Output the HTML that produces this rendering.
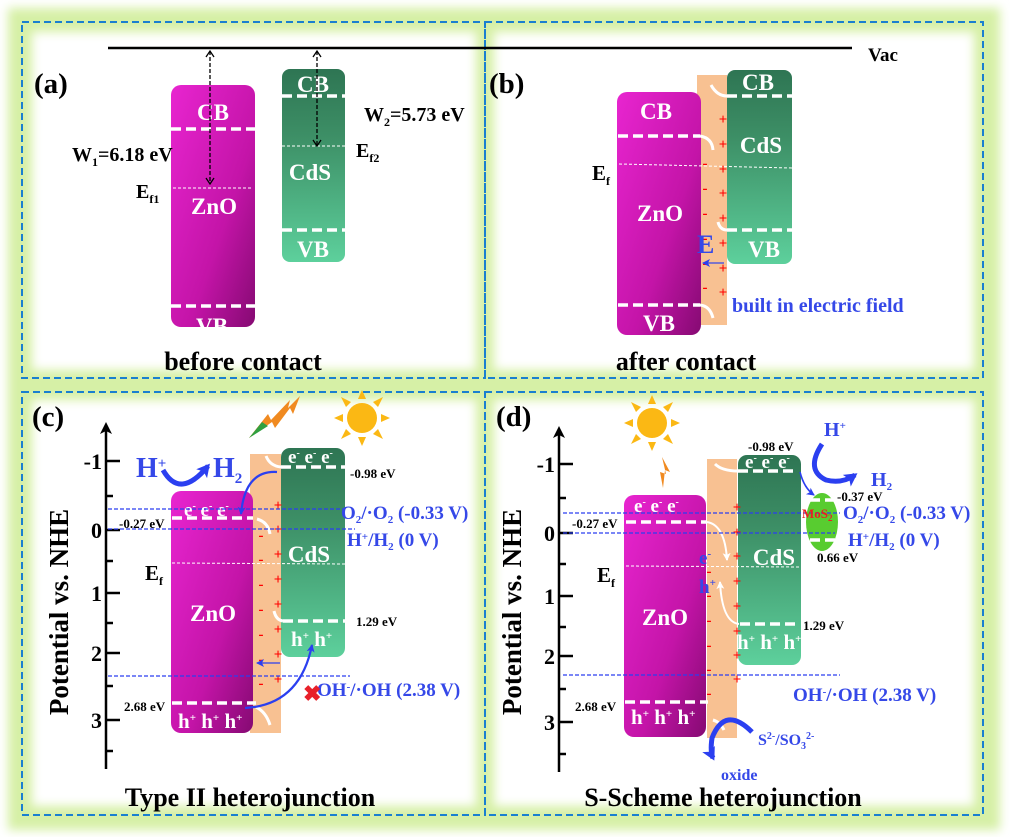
<!DOCTYPE html>
<html><head><meta charset="utf-8"><style>
html,body{margin:0;padding:0;background:#fff}
svg{display:block}
text{font-family:"Liberation Serif",serif;font-weight:bold}
</style></head><body>
<svg width="1010" height="837" viewBox="0 0 1010 837" xmlns="http://www.w3.org/2000/svg">
<defs>
<linearGradient id="mag" x1="0" y1="0" x2="1" y2="1"><stop offset="0" stop-color="#e825d0"/><stop offset="0.6" stop-color="#c414a8"/><stop offset="1" stop-color="#850a72"/></linearGradient>
<linearGradient id="grn" x1="0" y1="0" x2="0" y2="1"><stop offset="0" stop-color="#2e7553"/><stop offset="0.35" stop-color="#3d8f66"/><stop offset="1" stop-color="#5dd09c"/></linearGradient>
<filter id="bl"><feGaussianBlur stdDeviation="5"/></filter>
<marker id="ab" markerUnits="userSpaceOnUse" markerWidth="10" markerHeight="10" refX="7" refY="5" orient="auto"><path d="M0,1 L8,5 L0,9 L2,5z" fill="#2b3ff0"/></marker>
<marker id="abL" markerUnits="userSpaceOnUse" markerWidth="16" markerHeight="16" refX="10" refY="8" orient="auto"><path d="M0,1 L13,8 L0,15 L3,8z" fill="#2b3ff0"/></marker>
<marker id="aw" markerUnits="userSpaceOnUse" markerWidth="10" markerHeight="10" refX="7" refY="5" orient="auto"><path d="M0,1 L8,5 L0,9 L2,5z" fill="#fff"/></marker>
<marker id="ak" markerUnits="userSpaceOnUse" markerWidth="10" markerHeight="10" refX="8" refY="5" orient="auto-start-reverse"><path d="M2,1 L8,5 L2,9" fill="none" stroke="#000" stroke-width="1.3"/></marker>
<marker id="ax" markerUnits="userSpaceOnUse" markerWidth="14" markerHeight="14" refX="8" refY="7" orient="auto"><path d="M0,1 L12,7 L0,13 L3,7z" fill="#000"/></marker>
</defs>
<rect x="8" y="8" width="992" height="822" fill="#d6f0a6" filter="url(#bl)"/>
<rect x="32" y="32" width="444" height="338" fill="#fff" filter="url(#bl)"/>
<rect x="494" y="32" width="480" height="338" fill="#fff" filter="url(#bl)"/>
<rect x="32" y="400" width="444" height="406" fill="#fff" filter="url(#bl)"/>
<rect x="494" y="400" width="480" height="406" fill="#fff" filter="url(#bl)"/>
<g fill="none" stroke="#1a7fd0" stroke-width="2" stroke-dasharray="7,4">
<rect x="22" y="22" width="463" height="356"/><rect x="485" y="22" width="498" height="356"/>
<rect x="22" y="392" width="463" height="423"/><rect x="485" y="392" width="498" height="423"/>
</g>

<!-- (a) -->
<line x1="108" y1="48" x2="852" y2="48" stroke="#000" stroke-width="2.5"/>
<text x="868" y="61" font-size="19">Vac</text>
<text x="34" y="93" font-size="29">(a)</text>
<rect x="171" y="85" width="84" height="242" rx="10" fill="url(#mag)"/>
<rect x="282" y="69" width="63" height="193" rx="8" fill="url(#grn)"/>
<g stroke="#fff" stroke-width="3.5" stroke-dasharray="10,5">
<line x1="171" y1="129" x2="255" y2="129"/><line x1="171" y1="306" x2="255" y2="306"/>
<line x1="282" y1="96" x2="345" y2="96"/><line x1="282" y1="230" x2="345" y2="230"/>
</g>
<g stroke="#fff" stroke-width="1" stroke-dasharray="3,2">
<line x1="173" y1="188" x2="253" y2="188"/><line x1="282" y1="146" x2="345" y2="146"/></g>
<g fill="#fff" font-size="23" text-anchor="middle">
<text x="213" y="120">CB</text><text x="214" y="214">ZnO</text><text x="212" y="334">VB</text>
<text x="313" y="92">CB</text><text x="310" y="180">CdS</text><text x="313" y="257">VB</text></g>
<g stroke="#000" stroke-width="1.3" stroke-dasharray="4,2">
<line x1="210" y1="51" x2="210" y2="184" marker-start="url(#ak)" marker-end="url(#ak)"/>
<line x1="317" y1="51" x2="317" y2="146" marker-start="url(#ak)" marker-end="url(#ak)"/></g>
<text x="72" y="161" font-size="20">W<tspan font-size="12" dy="5">1</tspan><tspan dy="-5">=6.18 eV</tspan></text>
<text x="136" y="198" font-size="20">E<tspan font-size="12" dy="5">f1</tspan></text>
<text x="364" y="121" font-size="20">W<tspan font-size="12" dy="5">2</tspan><tspan dy="-5">=5.73 eV</tspan></text>
<text x="356" y="157" font-size="20">E<tspan font-size="12" dy="5">f2</tspan></text>
<text x="243" y="370" font-size="26" text-anchor="middle">before contact</text>

<!-- (b) -->
<text x="489" y="93" font-size="29">(b)</text>
<rect x="697" y="75" width="30" height="250" fill="#f8c192"/>
<rect x="617" y="92" width="84" height="243" rx="10" fill="url(#mag)"/>
<rect x="727" y="70" width="65" height="194" rx="8" fill="url(#grn)"/>
<g stroke="#fff" stroke-width="3.5" stroke-dasharray="10,5">
<line x1="618" y1="136" x2="700" y2="136"/><line x1="618" y1="305" x2="700" y2="305"/>
<line x1="727" y1="96" x2="792" y2="96"/><line x1="727" y1="230" x2="792" y2="230"/></g>
<g stroke="#fff" stroke-width="3" fill="none"><path d="M700,136 Q712,138 713,150"/><path d="M711,85 Q717,96 727,96"/><path d="M700,305 Q710,306 713,318"/><path d="M718,222 Q720,230 727,230"/></g>
<g stroke="#fff" stroke-width="1" stroke-dasharray="3,2"><line x1="619" y1="164" x2="792" y2="168"/></g>
<g fill="#fff" font-size="23" text-anchor="middle">
<text x="656" y="119">CB</text><text x="660" y="221">ZnO</text><text x="659" y="331">VB</text>
<text x="758" y="90">CB</text><text x="761" y="153">CdS</text><text x="764" y="257">VB</text></g>
<g fill="#f00" font-size="15" font-family="Liberation Sans" text-anchor="middle">
<text x="723" y="124">+</text><text x="723" y="149">+</text><text x="723" y="174">+</text><text x="723" y="198">+</text><text x="723" y="223">+</text><text x="723" y="248">+</text><text x="723" y="273">+</text><text x="723" y="297">+</text>
<text x="705" y="168">-</text><text x="705" y="193">-</text><text x="705" y="218">-</text><text x="705" y="243">-</text><text x="705" y="268">-</text><text x="705" y="292">-</text></g>
<text x="697" y="253" font-size="26" fill="#3548e8">E</text>
<line x1="724" y1="263" x2="703" y2="263" stroke="#3548e8" stroke-width="1.3" marker-end="url(#ab)"/>
<text x="732" y="312" font-size="20" fill="#3548e8">built in electric field</text>
<text x="592" y="180" font-size="21">E<tspan font-size="12" dy="5">f</tspan></text>
<text x="686" y="370" font-size="26" text-anchor="middle">after contact</text>

<!-- (c) -->
<text x="32" y="426" font-size="29">(c)</text>
<line x1="106" y1="769" x2="106" y2="426" stroke="#000" stroke-width="2.5" marker-end="url(#ax)"/>
<g stroke="#000" stroke-width="2.5">
<line x1="106" y1="461" x2="120" y2="461"/><line x1="106" y1="530" x2="120" y2="530"/><line x1="106" y1="593" x2="120" y2="593"/><line x1="106" y1="653" x2="120" y2="653"/><line x1="106" y1="720" x2="120" y2="720"/>
<line x1="106" y1="496" x2="113" y2="496"/><line x1="106" y1="561" x2="113" y2="561"/><line x1="106" y1="623" x2="113" y2="623"/><line x1="106" y1="686" x2="113" y2="686"/><line x1="106" y1="751" x2="113" y2="751"/></g>
<g font-size="22" text-anchor="end"><text x="102" y="469">-1</text><text x="102" y="538">0</text><text x="102" y="601">1</text><text x="102" y="661">2</text><text x="102" y="728">3</text></g>
<text transform="translate(68,612) rotate(-90)" font-size="27" text-anchor="middle">Potential vs. NHE</text>
<rect x="250" y="454" width="31" height="279" fill="#f8c192"/>
<rect x="171" y="491" width="82" height="242" rx="10" fill="url(#mag)"/>
<rect x="281" y="448" width="64" height="209" rx="9" fill="url(#grn)"/>
<g stroke="#fff" stroke-width="3.5" stroke-dasharray="10,5">
<line x1="172" y1="518" x2="253" y2="518"/><line x1="172" y1="703" x2="256" y2="703"/>
<line x1="281" y1="467" x2="345" y2="467"/><line x1="283" y1="621" x2="345" y2="621"/></g>
<g stroke="#fff" stroke-width="3" fill="none"><path d="M257,519 Q268,522 270,534"/><path d="M266,456 Q270,466 281,467"/><path d="M256,707 Q266,712 270,725"/><path d="M274,611 Q276,620 283,621"/></g>
<g stroke="#fff" stroke-width="1" stroke-dasharray="3,2"><line x1="172" y1="563" x2="345" y2="564"/></g>
<g fill="#fff" font-size="23" text-anchor="middle"><text x="213" y="621">ZnO</text><text x="309" y="562">CdS</text></g>
<g fill="#fff" font-size="19"><text x="184" y="516">e<tspan font-size="10" dy="-7">-</tspan><tspan dy="7"> e</tspan><tspan font-size="10" dy="-7">-</tspan><tspan dy="7"> e</tspan><tspan font-size="10" dy="-7">-</tspan></text>
<text x="288" y="463">e<tspan font-size="10" dy="-7">-</tspan><tspan dy="7"> e</tspan><tspan font-size="10" dy="-7">-</tspan><tspan dy="7"> e</tspan><tspan font-size="10" dy="-7">-</tspan></text>
<text x="178" y="728" font-size="21">h<tspan font-size="11" dy="-7">+</tspan><tspan dy="7"> h</tspan><tspan font-size="11" dy="-7">+</tspan><tspan dy="7"> h</tspan><tspan font-size="11" dy="-7">+</tspan></text>
<text x="291" y="646" font-size="21">h<tspan font-size="11" dy="-7">+</tspan><tspan dy="7"> h</tspan><tspan font-size="11" dy="-7">+</tspan></text></g>
<g fill="#f00" font-size="15" font-family="Liberation Sans" text-anchor="middle">
<text x="278" y="510">+</text><text x="278" y="534">+</text><text x="278" y="559">+</text><text x="278" y="584">+</text><text x="278" y="609">+</text><text x="278" y="634">+</text><text x="278" y="659">+</text><text x="278" y="684">+</text>
<text x="261" y="540">-</text><text x="261" y="564">-</text><text x="261" y="589">-</text><text x="261" y="614">-</text><text x="261" y="639">-</text><text x="261" y="664">-</text><text x="261" y="688">-</text></g>
<g stroke="#2b3ff0" stroke-width="1.3" stroke-dasharray="4,2">
<line x1="108" y1="509" x2="345" y2="509"/><line x1="108" y1="529" x2="355" y2="529"/><line x1="108" y1="676" x2="350" y2="676"/></g>
<g fill="#3548e8" font-size="19"><text x="341" y="519">O<tspan font-size="11" dy="4">2</tspan><tspan dy="-4">/·O</tspan><tspan font-size="11" dy="4">2</tspan><tspan dy="-4"> (-0.33 V)</tspan></text>
<text x="347" y="546">H<tspan font-size="11" dy="-6">+</tspan><tspan dy="6">/H</tspan><tspan font-size="11" dy="4">2</tspan><tspan dy="-4"> (0 V)</tspan></text>
<text x="317" y="696">OH<tspan font-size="11" dy="-6">-</tspan><tspan dy="6">/·OH (2.38 V)</tspan></text>
<text x="136" y="477" font-size="28">H<tspan font-size="15" dy="-9">+</tspan></text><text x="213" y="477" font-size="28">H<tspan font-size="15" dy="6">2</tspan></text></g>
<text x="303" y="701" font-size="22" fill="#e8202a" font-family="Liberation Sans">✖</text>
<g font-size="13"><text x="350" y="478">-0.98 eV</text><text x="356" y="626">1.29 eV</text><text x="119" y="528">-0.27 eV</text><text x="124" y="711">2.68 eV</text></g>
<text x="145" y="580" font-size="21">E<tspan font-size="12" dy="5">f</tspan></text>
<path d="M163,470 Q180,500 208,466" fill="none" stroke="#2b3ff0" stroke-width="5" marker-end="url(#abL)"/>
<path d="M277,472 Q245,470 241,514" fill="none" stroke="#2b3ff0" stroke-width="2.2" marker-end="url(#ab)"/>
<path d="M245,708 Q300,705 312,645" fill="none" stroke="#2b3ff0" stroke-width="2.2" marker-end="url(#ab)"/>
<line x1="280" y1="663" x2="257" y2="663" stroke="#2b3ff0" stroke-width="1.3" marker-end="url(#ab)"/>
<polygon points="249,438 268,414 271,420 290,400 288,408 300,396 293,414 290,408 275,428 272,422" fill="#f08a20"/>
<polygon points="249,438 262,422 268,426" fill="#30a040"/>
<g transform="translate(362,418)" fill="#fbb814"><circle r="15"/><g id="rays"><polygon points="-4,-19 4,-19 0,-28"/><polygon points="-4,19 4,19 0,28"/><polygon points="-19,-4 -19,4 -28,0"/><polygon points="19,-4 19,4 28,0"/><polygon points="11,-16 16,-11 21,-21"/><polygon points="-11,-16 -16,-11 -21,-21"/><polygon points="11,16 16,11 21,21"/><polygon points="-11,16 -16,11 -21,21"/></g></g>
<text x="250" y="806" font-size="26" text-anchor="middle">Type II heterojunction</text>

<!-- (d) -->
<text x="496" y="426" font-size="29">(d)</text>
<line x1="559" y1="772" x2="559" y2="430" stroke="#000" stroke-width="2.5" marker-end="url(#ax)"/>
<g stroke="#000" stroke-width="2.5">
<line x1="559" y1="464" x2="573" y2="464"/><line x1="559" y1="533" x2="573" y2="533"/><line x1="559" y1="596" x2="573" y2="596"/><line x1="559" y1="656" x2="573" y2="656"/><line x1="559" y1="722" x2="573" y2="722"/>
<line x1="559" y1="498" x2="566" y2="498"/><line x1="559" y1="564" x2="566" y2="564"/><line x1="559" y1="627" x2="566" y2="627"/><line x1="559" y1="689" x2="566" y2="689"/><line x1="559" y1="754" x2="566" y2="754"/></g>
<g font-size="22" text-anchor="end"><text x="555" y="472">-1</text><text x="555" y="541">0</text><text x="555" y="604">1</text><text x="555" y="664">2</text><text x="555" y="730">3</text></g>
<text transform="translate(521,612) rotate(-90)" font-size="27" text-anchor="middle">Potential vs. NHE</text>
<rect x="707" y="459" width="30" height="279" fill="#f8c192"/>
<rect x="624" y="495" width="82" height="242" rx="10" fill="url(#mag)"/>
<rect x="738" y="455" width="63" height="210" rx="9" fill="url(#grn)"/>
<ellipse cx="822" cy="522" rx="16" ry="29" fill="#58cc30"/>
<g stroke="#fff" stroke-width="3.5" stroke-dasharray="10,5">
<line x1="626" y1="522" x2="706" y2="522"/><line x1="625" y1="702" x2="708" y2="702"/>
<line x1="738" y1="471" x2="798" y2="471"/><line x1="740" y1="624" x2="800" y2="624"/>
<line x1="810" y1="500" x2="835" y2="500"/><line x1="810" y1="540" x2="835" y2="540"/></g>
<g stroke="#fff" stroke-width="3" fill="none"><path d="M715,464 Q722,471 738,471"/><path d="M713,720 Q720,722 724,730"/></g>
<g stroke="#fff" stroke-width="1" stroke-dasharray="3,2"><line x1="626" y1="566" x2="801" y2="567"/></g>
<path d="M707,522 Q725,525 727,560" fill="none" stroke="#fff" stroke-width="2" marker-end="url(#aw)"/>
<path d="M739,624 Q722,622 720,582" fill="none" stroke="#fff" stroke-width="2" marker-end="url(#aw)"/>
<g fill="#fff" font-size="23" text-anchor="middle"><text x="665" y="625">ZnO</text><text x="774" y="565">CdS</text></g>
<g fill="#fff" font-size="19"><text x="634" y="512">e<tspan font-size="10" dy="-7">-</tspan><tspan dy="7"> e</tspan><tspan font-size="10" dy="-7">-</tspan><tspan dy="7"> e</tspan><tspan font-size="10" dy="-7">-</tspan></text>
<text x="745" y="468">e<tspan font-size="10" dy="-7">-</tspan><tspan dy="7"> e</tspan><tspan font-size="10" dy="-7">-</tspan><tspan dy="7"> e</tspan><tspan font-size="10" dy="-7">-</tspan></text>
<text x="631" y="724" font-size="21">h<tspan font-size="11" dy="-7">+</tspan><tspan dy="7"> h</tspan><tspan font-size="11" dy="-7">+</tspan><tspan dy="7"> h</tspan><tspan font-size="11" dy="-7">+</tspan></text>
<text x="737" y="649" font-size="21">h<tspan font-size="11" dy="-7">+</tspan><tspan dy="7"> h</tspan><tspan font-size="11" dy="-7">+</tspan><tspan dy="7"> h</tspan><tspan font-size="11" dy="-7">+</tspan></text></g>
<g fill="#f00" font-size="15" font-family="Liberation Sans" text-anchor="middle">
<text x="737" y="512">+</text><text x="737" y="537">+</text><text x="737" y="561">+</text><text x="737" y="586">+</text><text x="737" y="611">+</text><text x="737" y="636">+</text><text x="737" y="660">+</text><text x="737" y="684">+</text>
<text x="709" y="576">-</text><text x="709" y="600">-</text><text x="709" y="625">-</text><text x="709" y="650">-</text><text x="709" y="674">-</text><text x="709" y="698">-</text></g>
<g stroke="#2b3ff0" stroke-width="1.3" stroke-dasharray="4,2">
<line x1="563" y1="513" x2="840" y2="513"/><line x1="563" y1="533" x2="835" y2="533"/><line x1="563" y1="675" x2="840" y2="675"/></g>
<text x="802" y="518" font-size="13" fill="#e82020">MoS<tspan font-size="9" dy="3">2</tspan></text>
<g fill="#3548e8" font-size="19"><text x="843" y="519">O<tspan font-size="11" dy="4">2</tspan><tspan dy="-4">/·O</tspan><tspan font-size="11" dy="4">2</tspan><tspan dy="-4"> (-0.33 V)</tspan></text>
<text x="848" y="546">H<tspan font-size="11" dy="-6">+</tspan><tspan dy="6">/H</tspan><tspan font-size="11" dy="4">2</tspan><tspan dy="-4"> (0 V)</tspan></text>
<text x="793" y="701">OH<tspan font-size="11" dy="-6">-</tspan><tspan dy="6">/·OH (2.38 V)</tspan></text>
<text x="824" y="436" font-size="20">H<tspan font-size="11" dy="-7">+</tspan></text><text x="871" y="486" font-size="20">H<tspan font-size="11" dy="4">2</tspan></text>
<text x="758" y="745" font-size="16">S<tspan font-size="10" dy="-6">2-</tspan><tspan dy="6">/SO</tspan><tspan font-size="10" dy="4">3</tspan><tspan font-size="10" dy="-10">2-</tspan></text>
<text x="721" y="780" font-size="16">oxide</text>
<text x="699" y="564" font-size="19">e<tspan font-size="11" dy="-7">-</tspan></text><text x="699" y="593" font-size="19">h<tspan font-size="11" dy="-7">+</tspan></text></g>
<g font-size="13"><text x="748" y="451">-0.98 eV</text><text x="837" y="501">-0.37 eV</text><text x="817" y="562">0.66 eV</text><text x="803" y="630">1.29 eV</text><text x="572" y="528">-0.27 eV</text><text x="575" y="711">2.68 eV</text></g>
<text x="597" y="582" font-size="21">E<tspan font-size="12" dy="5">f</tspan></text>
<path d="M800,472 Q804,488 814,495" fill="none" stroke="#2b3ff0" stroke-width="1.6" marker-end="url(#ab)"/>
<path d="M822,444 Q805,470 826,480 Q842,484 855,475" fill="none" stroke="#2b3ff0" stroke-width="5" marker-end="url(#abL)"/>
<path d="M752,732 Q725,705 712,738 Q710,752 713,758" fill="none" stroke="#2b3ff0" stroke-width="5" marker-end="url(#abL)"/>
<polygon points="663,488 660,472 666,474 662,457 670,472 665,470" fill="#f08a20"/>
<g transform="translate(652,423)" fill="#fbb814"><circle r="15"/><use href="#rays"/></g>
<text x="723" y="806" font-size="26" text-anchor="middle">S-Scheme heterojunction</text>
</svg>
</body></html>
